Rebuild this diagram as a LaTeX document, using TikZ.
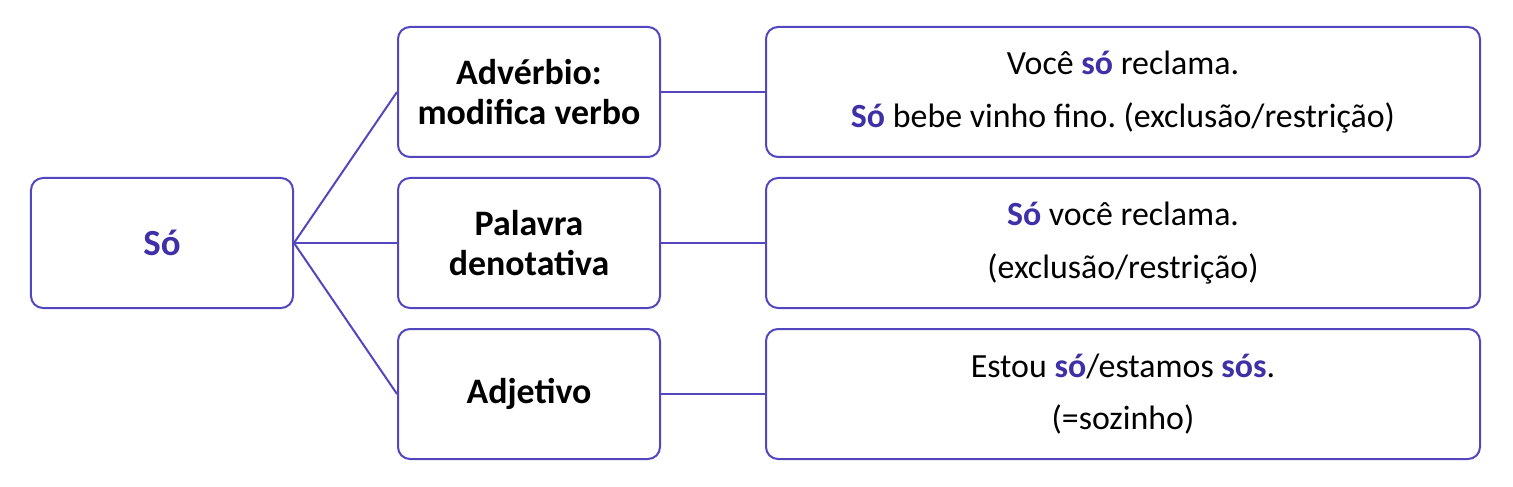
\documentclass[tikz,border=0pt]{standalone}
\usepackage{fontspec}
\setmainfont{Carlito}
\usepackage{tikz}
\usetikzlibrary{positioning}
\definecolor{soLine}{HTML}{5346BE}
\definecolor{soWord}{HTML}{3F30A8}
\newcommand{\soemph}[1]{\textbf{\textcolor{soWord}{#1}}}
\frenchspacing

\begin{document}
\begin{tikzpicture}[
    node distance=19bp and 103bp,
    box/.style={rectangle, draw=soLine, line width=2bp, rounded corners=12bp, minimum height=130bp, align=center, inner sep=0pt},
    rootbox/.style={box, minimum width=262bp, font=\fontsize{37}{40}\selectfont\bfseries, text=soWord},
    classbox/.style={box, minimum width=262bp, font=\fontsize{36}{40}\selectfont\bfseries},
    examplebox/.style={box, minimum width=714bp, font=\fontsize{34}{53}\selectfont},
    link/.style={draw=soLine, line width=2bp}
]
\useasboundingbox (-162bp,-244bp) rectangle (1351bp,243bp);

% Root word
\node[rootbox] (so) {Só};

% Word classes
\node[classbox, right=of so] (denot) {Palavra\\denotativa};
\node[classbox, above=of denot] (adverb) {Advérbio:\\modifica verbo};
\node[classbox, below=of denot] (adject) {Adjetivo};

% Examples
\node[examplebox, right=104bp of adverb] (exadverb) {Você \soemph{só} reclama.\\\soemph{Só} bebe vinho fino. (exclusão/restrição)};
\node[examplebox, right=104bp of denot] (exdenot) {\soemph{Só} você reclama.\\(exclusão/restrição)};
\node[examplebox, right=104bp of adject] (exadject) {Estou \soemph{só}/estamos \soemph{sós}.\\(=sozinho)};

% Connectors
\foreach \cls/\ex in {adverb/exadverb, denot/exdenot, adject/exadject} {
    \draw[link] (so.east) -- (\cls.west);
    \draw[link] (\cls.east) -- (\ex.west);
}

\end{tikzpicture}
\end{document}
